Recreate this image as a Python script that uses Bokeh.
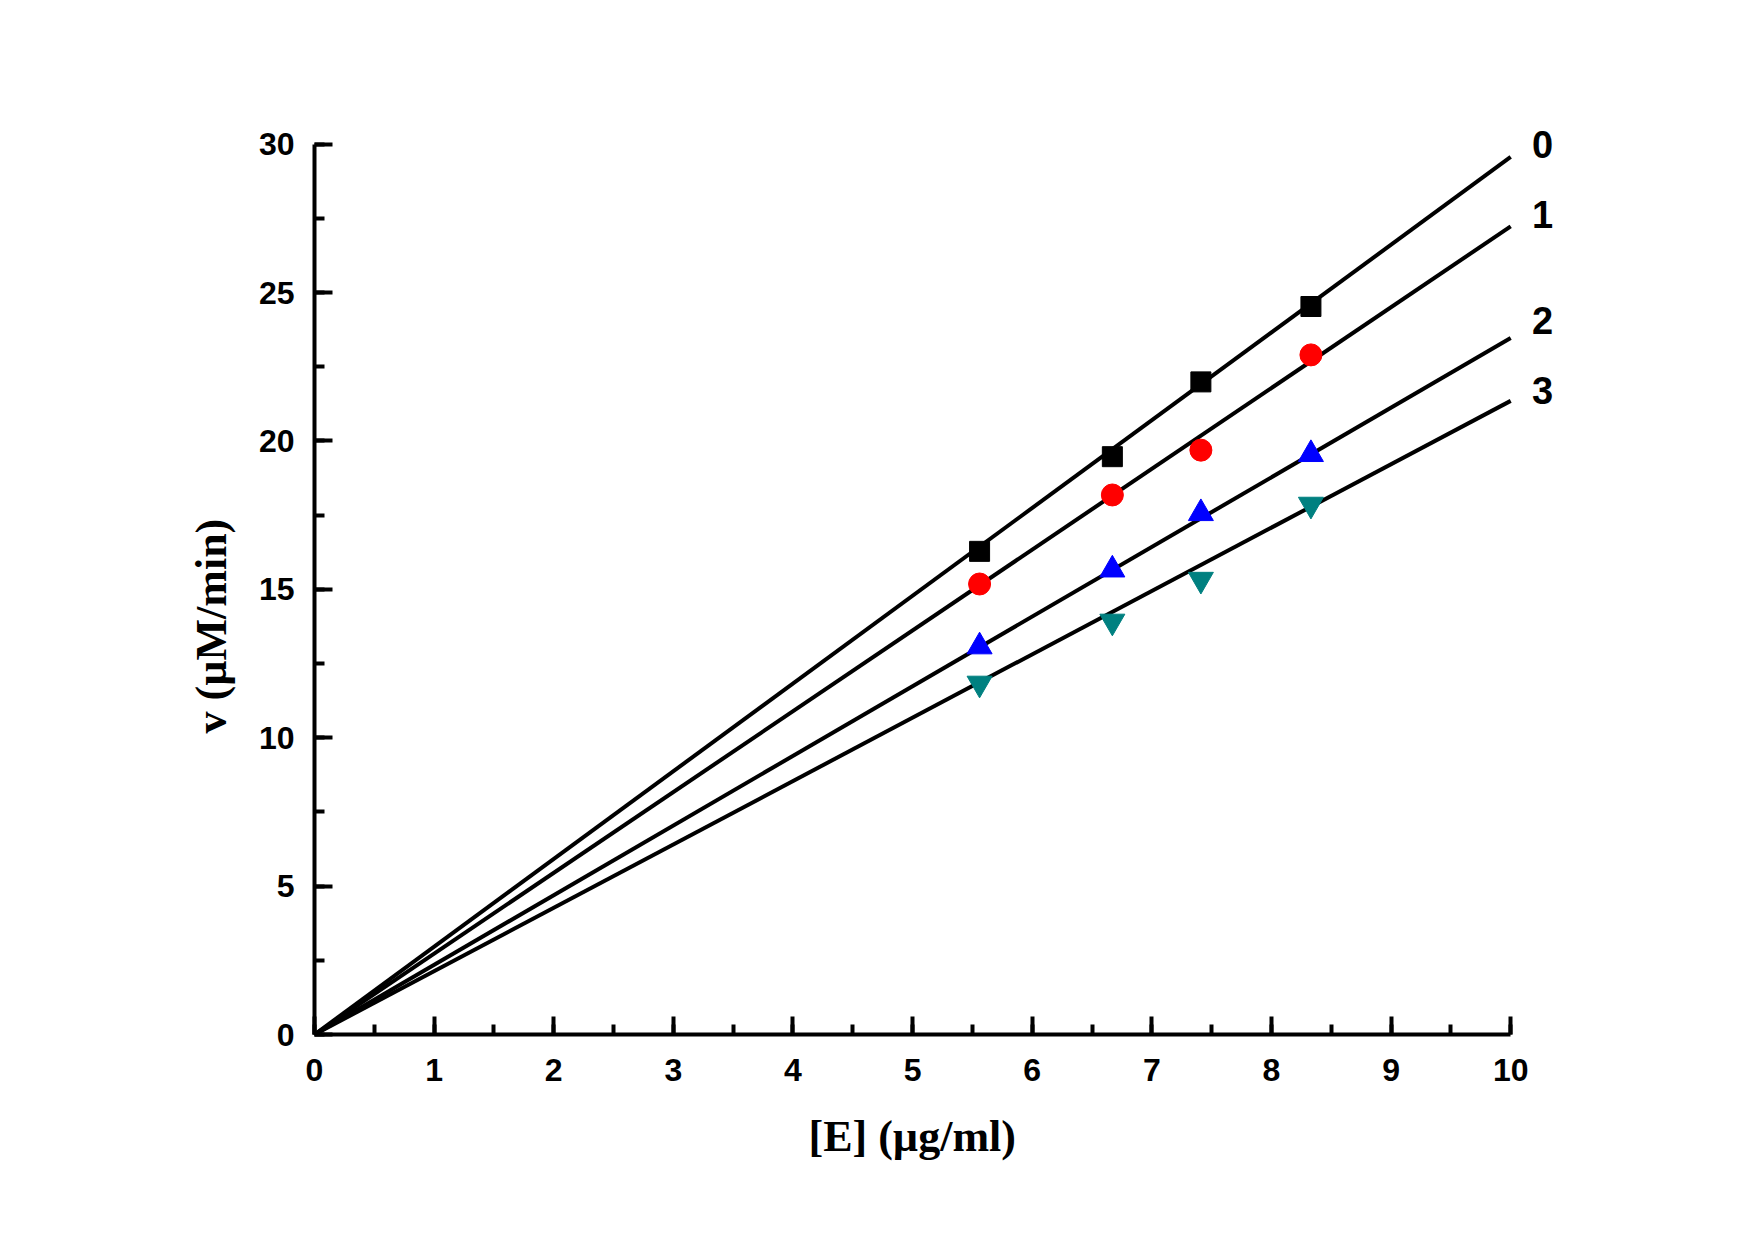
from bokeh.plotting import figure
from bokeh.models import Range1d, SingleIntervalTicker, Title
from bokeh.core.properties import value
from bokeh.embed import file_html
from bokeh.resources import INLINE

# ---- data ----
e_conc = [5.56, 6.67, 7.41, 8.33]
v_0 = [16.28, 19.47, 21.99, 24.53]
v_1 = [15.18, 18.18, 19.69, 22.90]
v_2 = [13.07, 15.66, 17.56, 19.55]
v_3 = [11.83, 13.92, 15.33, 17.86]

fit_x = [0.0, 10.0]
fit_0 = [0.0, 29.57]
fit_1 = [0.0, 27.23]
fit_2 = [0.0, 23.47]
fit_3 = [0.0, 21.35]

curve_names = ["0", "1", "2", "3"]

x_label = "[E] (\u00b5g/ml)"
y_label = "v (\u00b5M/min)"

# ---- figure ----
p = figure(width=1755, height=1240, output_backend="svg", toolbar_location=None,
           x_range=Range1d(0, 10.5), y_range=Range1d(0, 31),
           min_border_left=314, min_border_right=185,
           min_border_top=114, min_border_bottom=206)
p.outline_line_color = None
p.xgrid.grid_line_color = None
p.ygrid.grid_line_color = None
p.background_fill_color = "white"
p.border_fill_color = "white"

for ax in (p.xaxis[0], p.yaxis[0]):
    ax.axis_line_width = 4
    ax.axis_line_color = "black"
    ax.major_tick_in = 18
    ax.major_tick_out = 0
    ax.minor_tick_in = 10
    ax.minor_tick_out = 0
    ax.major_tick_line_width = 4
    ax.minor_tick_line_width = 4
    ax.major_tick_line_color = "black"
    ax.minor_tick_line_color = "black"
    ax.major_label_text_font = "Liberation Sans"
    ax.major_label_text_font_style = "bold"
    ax.major_label_text_font_size = "32px"
    ax.major_label_text_color = "black"

p.xaxis[0].bounds = (0, 10)
p.yaxis[0].bounds = (0, 30)
p.xaxis[0].ticker = SingleIntervalTicker(interval=1, num_minor_ticks=2)
p.yaxis[0].ticker = SingleIntervalTicker(interval=5, num_minor_ticks=2)
p.xaxis[0].major_label_standoff = 24
p.yaxis[0].major_label_standoff = 20

title_style = dict(text_font="Liberation Serif", text_font_style="bold",
                   text_font_size="44px", text_color="black", align="left")

# axis titles
p.add_layout(Title(text=x_label, offset=494, standoff=53, **title_style), "below")
p.add_layout(Title(text=y_label, offset=301, standoff=40, **title_style), "left")

# fit lines
fits = [fit_0, fit_1, fit_2, fit_3]
for f in fits:
    p.line(fit_x, f, line_color="black", line_width=4)

# markers
p.scatter(e_conc, v_0, marker="square", size=20, fill_color="black", line_color="black")
p.scatter(e_conc, v_1, marker="circle", size=22, fill_color="#FF0000", line_color="#FF0000")
p.scatter(e_conc, v_2, marker="triangle", size=25, fill_color="#0000FF", line_color="#0000FF")
p.scatter(e_conc, v_3, marker="inverted_triangle", size=25, fill_color="#008080", line_color="#008080")

# curve labels next to the line ends
px_per_unit = 890 / 30.0
raise_px = [12, 12, 17, 10]
lab_x = [fit_x[-1]] * len(fits)
lab_y = [f[-1] + r / px_per_unit for f, r in zip(fits, raise_px)]
p.text(x=lab_x, y=lab_y, text=curve_names, x_offset=32,
       text_align="center", text_baseline="middle",
       text_font=value("Liberation Sans"), text_font_style="bold",
       text_font_size="38px", text_color="black")

open("out.html", "w").write(file_html(p, INLINE))
